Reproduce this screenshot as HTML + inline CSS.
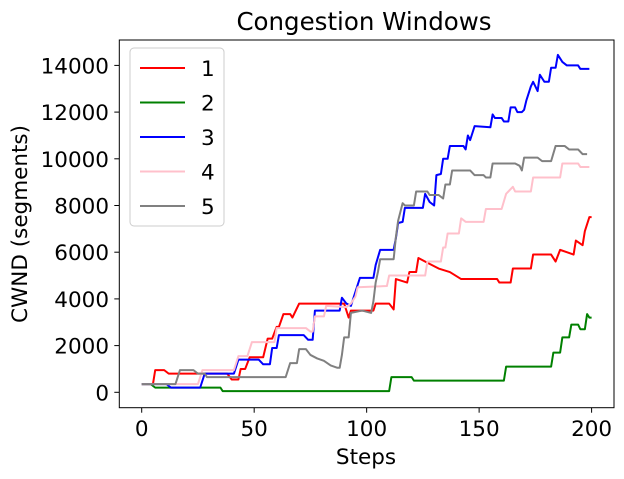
<!DOCTYPE html>
<html><head><meta charset="utf-8"><style>
body{margin:0;background:#fff;}
svg{display:block;font-family:"DejaVu Sans","Liberation Sans",sans-serif;}
</style></head><body>
<svg id="chart" width="624" height="479" viewBox="0 0 624 479">
<rect width="624" height="479" fill="#fff"/>
<text x="364" y="30" text-anchor="middle" font-size="24.5">Congestion Windows</text>
<g id="plot"></g>
<rect x="119.3" y="40" width="494.7" height="367.7" fill="none" stroke="#000" stroke-width="1"/>
<g id="xticks"></g>
<g id="yticks"></g>
<text x="366" y="464" text-anchor="middle" font-size="21.5">Steps</text>
<text transform="translate(27,224) rotate(-90)" text-anchor="middle" font-size="21.5">CWND (segments)</text>
<g id="legend"></g>
</svg>
<script>
const seriesNames = ["1","2","3","4","5"];
const seriesColors = ["#ff0000","#008000","#0000ff","#ffc0cb","#808080"];
const xTickVals = [0,50,100,150,200];
const yTickVals = [0,2000,4000,6000,8000,10000,12000,14000];

const s1Steps = [0,5,6,10,12,38,40,43,44,46,48,54,56,58,60,61,63,66,67,70,90,92,93,103,104,110,112,113,118,119,122,123,127,132,137,142,158,159,164,165,173,174,182,184,186,189,192,193,196,197,199,200];
const s1Vals = [350,350,950,950,800,800,550,550,1000,1000,1500,1500,2300,2300,2800,2800,3350,3350,3200,3800,3800,3200,3500,3500,3800,3800,3550,4850,4700,5150,5150,5750,5550,5300,5150,4850,4850,4700,4700,5300,5300,5900,5900,5600,6100,6000,5900,6500,6300,6900,7500,7500];

const s2Steps = [0,4,6,35,36,110,111,120,121,161,162,182,183,186,187,190,191,194,195,197,198,199,200];
const s2Vals = [350,350,200,200,50,50,650,650,500,500,1100,1100,1700,1700,2350,2350,2900,2900,2700,2700,3350,3200,3200];

const s3Steps = [0,11,13,26,28,41,43,52,54,57,58,60,61,72,74,76,77,88,89,91,93,95,97,103,104,106,112,113,114,116,117,125,126,128,130,131,133,134,136,137,143,144,145,146,148,155,156,157,160,161,163,164,166,167,169,170,171,173,174,176,177,179,181,182,184,185,187,189,194,195,199];
const s3Vals = [350,350,200,200,800,800,1400,1400,1200,1200,1900,1900,2450,2450,2250,2250,3500,3500,4050,3800,3700,4300,4900,4900,5450,6100,6100,6600,7250,7300,7900,7900,8500,8150,8000,9300,9350,10000,10000,10550,10550,10400,11000,10800,11400,11350,11900,11750,11750,11600,11600,12200,12200,12000,12000,12100,12500,13100,13300,12900,13600,13300,13300,13900,13900,14450,14150,14000,14000,13850,13850];

const s4Steps = [0,25,27,41,43,47,49,59,60,73,75,76,77,81,82,91,93,95,96,109,110,126,127,133,134,135,136,141,142,144,152,153,160,162,165,166,173,174,186,187,194,195,199];
const s4Vals = [350,350,950,950,1550,1550,2150,2150,2750,2750,2600,2600,3250,3250,3700,3650,3800,4100,4500,4550,5000,5000,5600,5600,6200,6200,6800,6800,7450,7300,7300,7850,7850,8500,8800,8600,8600,9200,9200,9800,9800,9650,9650];

const s5Steps = [0,15,17,23,25,28,29,64,66,69,70,73,75,78,81,84,87,88,89,90,92,93,98,102,103,104,105,106,112,113,114,116,117,121,122,127,128,132,134,135,137,138,146,148,152,153,155,156,166,168,169,170,176,178,182,184,188,190,194,196,198];
const s5Vals = [350,350,950,950,800,800,650,650,1250,1250,1850,1850,1600,1450,1350,1150,1050,1050,1600,2350,2350,3400,3500,3400,3900,4700,5150,5700,5700,6650,7350,8100,8000,8000,8600,8600,8450,8450,8300,8900,8900,9500,9500,9300,9300,9200,9200,9800,9800,9700,9500,10050,10050,9900,9900,10550,10550,10400,10400,10200,10200];

const allSteps = [s1Steps,s2Steps,s3Steps,s4Steps,s5Steps];
const allVals = [s1Vals,s2Vals,s3Vals,s4Vals,s5Vals];

const NS = "http://www.w3.org/2000/svg";
function xScale(s){ return 141.7 + s * 2.2495; }
function yScale(v){ return 392.3 - v * 0.02335; }

const plot = document.getElementById('plot');
for (let i = 0; i < allSteps.length; i++) {
  const st = allSteps[i], vs = allVals[i];
  const pts = st.map((s, j) => xScale(s).toFixed(2) + ',' + yScale(vs[j]).toFixed(2)).join(' ');
  const pl = document.createElementNS(NS, 'polyline');
  pl.setAttribute('points', pts);
  pl.setAttribute('fill', 'none');
  pl.setAttribute('stroke', seriesColors[i]);
  pl.setAttribute('stroke-width', '2');
  pl.setAttribute('stroke-linejoin', 'round');
  
  
  plot.appendChild(pl);
}

const xt = document.getElementById('xticks');
xTickVals.forEach(v => {
  const x = xScale(v);
  const l = document.createElementNS(NS, 'line');
  l.setAttribute('x1', x); l.setAttribute('x2', x);
  l.setAttribute('y1', 407.7); l.setAttribute('y2', 412.7);
  l.setAttribute('stroke', '#000');
  
  
  xt.appendChild(l);
  const t = document.createElementNS(NS, 'text');
  t.setAttribute('x', x); t.setAttribute('y', 436);
  t.setAttribute('text-anchor', 'middle');
  t.setAttribute('font-size', '21.5');
  t.textContent = v;
  
  
  xt.appendChild(t);
});

const yt = document.getElementById('yticks');
yTickVals.forEach(v => {
  const y = yScale(v);
  const l = document.createElementNS(NS, 'line');
  l.setAttribute('x1', 114.3); l.setAttribute('x2', 119.3);
  l.setAttribute('y1', y); l.setAttribute('y2', y);
  l.setAttribute('stroke', '#000');
  
  
  yt.appendChild(l);
  const t = document.createElementNS(NS, 'text');
  t.setAttribute('x', 109); t.setAttribute('y', y + 8);
  t.setAttribute('text-anchor', 'end');
  t.setAttribute('font-size', '21.5');
  t.textContent = v;
  
  
  yt.appendChild(t);
});

const lg = document.getElementById('legend');
const box = document.createElementNS(NS, 'rect');
box.setAttribute('x', 130); box.setAttribute('y', 48);
box.setAttribute('width', 94); box.setAttribute('height', 178);
box.setAttribute('rx', 4);
box.setAttribute('fill', '#fff'); box.setAttribute('fill-opacity', '0.8');
box.setAttribute('stroke', '#ccc');


lg.appendChild(box);
seriesNames.forEach((n, i) => {
  const y = 68 + i * 34.5;
  const g = document.createElementNS(NS, 'g');
  
  
  const l = document.createElementNS(NS, 'line');
  l.setAttribute('x1', 140); l.setAttribute('x2', 185);
  l.setAttribute('y1', y); l.setAttribute('y2', y);
  l.setAttribute('stroke', seriesColors[i]); l.setAttribute('stroke-width', '2');
  g.appendChild(l);
  const t = document.createElementNS(NS, 'text');
  t.setAttribute('x', 201); t.setAttribute('y', y + 8);
  t.setAttribute('font-size', '21.5');
  t.textContent = n;
  g.appendChild(t);
  lg.appendChild(g);
});
</script>
</body></html>
